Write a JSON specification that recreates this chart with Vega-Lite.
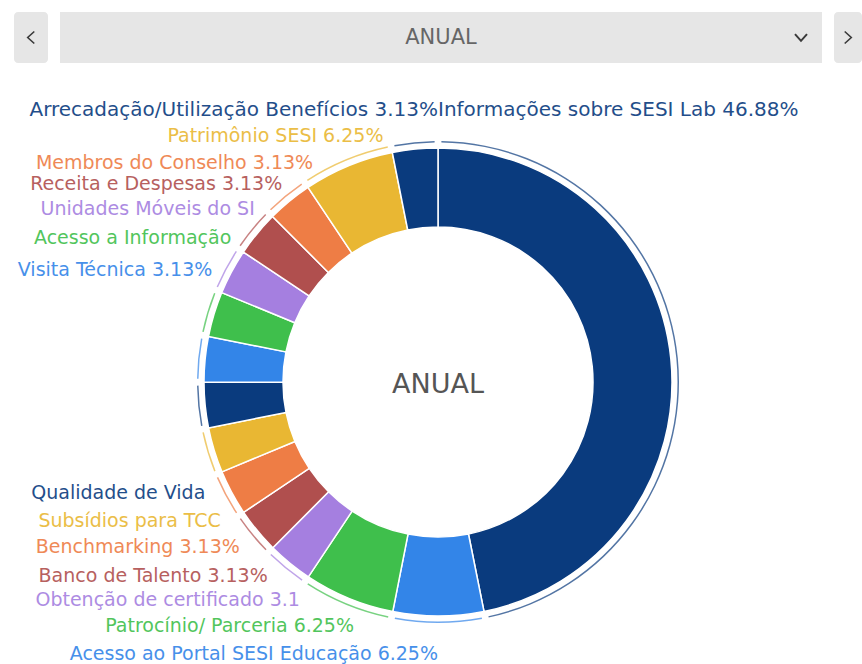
{
  "$schema": "https://vega.github.io/schema/vega-lite/v6.json",
  "background": "white",
  "padding": {"left": 14, "top": 12, "right": 0, "bottom": 0},
  "config": {"view": {"stroke": null}, "text": {"font": "DejaVu Sans"}},
  "spacing": 37,
  "vconcat": [
    {
      "spacing": 12,
      "hconcat": [
        {
          "width": 34, "height": 51,
          "view": {"fill": "#e6e6e6", "cornerRadius": 4, "stroke": null},
          "data": {"values": [{"botao": "anterior"}]},
          "mark": {"type": "point", "shape": "M0.55,-1L-0.55,0L0.55,1", "filled": false, "size": 144, "stroke": "#3a3a3a", "strokeWidth": 1.6, "opacity": 1},
          "encoding": {}
        },
        {
          "spacing": 0,
          "hconcat": [
            {
              "width": 42, "height": 51,
              "view": {"fill": "#e6e6e6", "stroke": null},
              "data": {"values": [{"vazio": ""}]},
              "mark": {"type": "text"},
              "encoding": {"text": {"field": "vazio"}}
            },
            {
              "width": 678, "height": 51,
              "view": {"fill": "#e6e6e6", "stroke": null},
              "data": {"values": [{"periodo": "ANUAL"}]},
              "mark": {"type": "text", "fontSize": 21, "color": "#666666", "baseline": "middle"},
              "encoding": {"text": {"field": "periodo"}}
            },
            {
              "width": 42, "height": 51,
              "view": {"fill": "#e6e6e6", "stroke": null},
              "data": {"values": [{"botao": "abrir"}]},
              "mark": {"type": "point", "shape": "M-1,-0.55L0,0.55L1,-0.55", "filled": false, "size": 144, "stroke": "#3a3a3a", "strokeWidth": 2, "opacity": 1},
              "encoding": {}
            }
          ]
        },
        {
          "width": 28, "height": 51,
          "view": {"fill": "#e6e6e6", "cornerRadius": 4, "stroke": null},
          "data": {"values": [{"botao": "proximo"}]},
          "mark": {"type": "point", "shape": "M-0.55,-1L0.55,0L-0.55,1", "filled": false, "size": 144, "stroke": "#3a3a3a", "strokeWidth": 1.6, "opacity": 1},
          "encoding": {}
        }
      ]
    },
    {
      "width": 848,
      "height": 564,
      "data": {
        "values": [
          {"ordem": 1, "cat": "Informações sobre SESI Lab", "pct": 46.88, "rotulo": "Informações sobre SESI Lab 46.88%"},
          {"ordem": 2, "cat": "Acesso ao Portal SESI Educação", "pct": 6.25, "rotulo": "Acesso ao Portal SESI Educação 6.25%"},
          {"ordem": 3, "cat": "Patrocínio/ Parceria", "pct": 6.25, "rotulo": "Patrocínio/ Parceria 6.25%"},
          {"ordem": 4, "cat": "Obtenção de certificado", "pct": 3.13, "rotulo": "Obtenção de certificado 3.1"},
          {"ordem": 5, "cat": "Banco de Talento", "pct": 3.13, "rotulo": "Banco de Talento 3.13%"},
          {"ordem": 6, "cat": "Benchmarking", "pct": 3.13, "rotulo": "Benchmarking 3.13%"},
          {"ordem": 7, "cat": "Subsídios para TCC", "pct": 3.13, "rotulo": "Subsídios para TCC"},
          {"ordem": 8, "cat": "Qualidade de Vida", "pct": 3.13, "rotulo": "Qualidade de Vida"},
          {"ordem": 9, "cat": "Visita Técnica", "pct": 3.13, "rotulo": "Visita Técnica 3.13%"},
          {"ordem": 10, "cat": "Acesso a Informação", "pct": 3.13, "rotulo": "Acesso a Informação"},
          {"ordem": 11, "cat": "Unidades Móveis do SESI", "pct": 3.13, "rotulo": "Unidades Móveis do SI"},
          {"ordem": 12, "cat": "Receita e Despesas", "pct": 3.13, "rotulo": "Receita e Despesas 3.13%"},
          {"ordem": 13, "cat": "Membros do Conselho", "pct": 3.13, "rotulo": "Membros do Conselho 3.13%"},
          {"ordem": 14, "cat": "Patrimônio SESI", "pct": 6.25, "rotulo": "Patrimônio SESI 6.25%"},
          {"ordem": 15, "cat": "Arrecadação/Utilização Benefícios", "pct": 3.13, "rotulo": "Arrecadação/Utilização Benefícios 3.13%"}
        ]
      },
      "resolve": {"scale": {"theta": "independent"}},
      "layer": [
        {
          "mark": {"type": "arc", "innerRadius": 155, "outerRadius": 234, "stroke": "white", "strokeWidth": 1.5},
          "encoding": {
            "theta": {"field": "pct", "type": "quantitative", "stack": true},
            "order": {"field": "ordem", "type": "quantitative"},
            "color": {
              "field": "cat", "type": "nominal", "legend": null,
              "scale": {
                "domain": ["Informações sobre SESI Lab", "Acesso ao Portal SESI Educação", "Patrocínio/ Parceria", "Obtenção de certificado", "Banco de Talento", "Benchmarking", "Subsídios para TCC", "Qualidade de Vida", "Visita Técnica", "Acesso a Informação", "Unidades Móveis do SESI", "Receita e Despesas", "Membros do Conselho", "Patrimônio SESI", "Arrecadação/Utilização Benefícios"],
                "range": ["#0a3b7e", "#3385e8", "#3fbf4c", "#a57fe0", "#b04f4e", "#ee7d45", "#e9b733"]
              }
            }
          }
        },
        {
          "mark": {"type": "arc", "innerRadius": 239.5, "outerRadius": 241, "padAngle": 0.02, "opacity": 0.7},
          "encoding": {
            "theta": {"field": "pct", "type": "quantitative", "stack": true},
            "order": {"field": "ordem", "type": "quantitative"},
            "color": {"field": "cat", "type": "nominal", "legend": null}
          }
        },
        {
          "mark": {"type": "text", "radius": 258, "align": "right", "baseline": "middle", "fontSize": 19, "clip": true, "opacity": 0.9},
          "encoding": {
            "theta": {
              "field": "pct", "type": "quantitative", "stack": true,
              "scale": {
                "domain": [50.005, 56.255, 67.205, 73.465, 76.595, 89.115, 93.805],
                "range": [3.14159, 3.47321, 4.01779, 4.26563, 5.17317, 5.76485, 6.06505]
              }
            },
            "order": {"field": "ordem", "type": "quantitative"},
            "color": {"field": "cat", "type": "nominal", "legend": null},
            "text": {"condition": {"test": "datum.ordem < 3 || datum.ordem > 8", "value": ""}, "field": "rotulo"}
          }
        },
        {
          "mark": {"type": "text", "radius": 252, "align": "right", "baseline": "middle", "fontSize": 19, "clip": true, "opacity": 0.9},
          "encoding": {
            "theta": {
              "field": "pct", "type": "quantitative", "stack": true,
              "scale": {
                "domain": [50.005, 56.255, 67.205, 73.465, 76.595, 89.115, 93.805],
                "range": [3.14159, 3.47321, 4.01779, 4.26563, 5.17317, 5.76485, 6.06505]
              }
            },
            "order": {"field": "ordem", "type": "quantitative"},
            "color": {"field": "cat", "type": "nominal", "legend": null},
            "text": {"condition": {"test": "datum.ordem < 9 || datum.ordem > 14", "value": ""}, "field": "rotulo"}
          }
        },
        {
          "transform": [{"filter": "datum.ordem == 2"}],
          "mark": {"type": "text", "theta": 3.14159, "radius": 272, "align": "right", "baseline": "middle", "fontSize": 19, "opacity": 0.9},
          "encoding": {
            "color": {"field": "cat", "type": "nominal", "legend": null},
            "text": {"field": "rotulo"}
          }
        },
        {
          "transform": [{"filter": "datum.ordem == 1"}],
          "mark": {"type": "text", "theta": 0, "radius": 272, "align": "left", "baseline": "middle", "fontSize": 20, "opacity": 0.9},
          "encoding": {
            "color": {"field": "cat", "type": "nominal", "legend": null},
            "text": {"field": "rotulo"}
          }
        },
        {
          "transform": [{"filter": "datum.ordem == 15"}],
          "mark": {"type": "text", "theta": 0, "radius": 272, "align": "right", "baseline": "middle", "fontSize": 20, "opacity": 0.9},
          "encoding": {
            "color": {"field": "cat", "type": "nominal", "legend": null},
            "text": {"field": "rotulo"}
          }
        },
        {
          "data": {"values": [{"titulo": "ANUAL"}]},
          "mark": {"type": "text", "fontSize": 27, "color": "#555555", "baseline": "middle", "dy": 3},
          "encoding": {"text": {"field": "titulo"}}
        }
      ]
    }
  ]
}
